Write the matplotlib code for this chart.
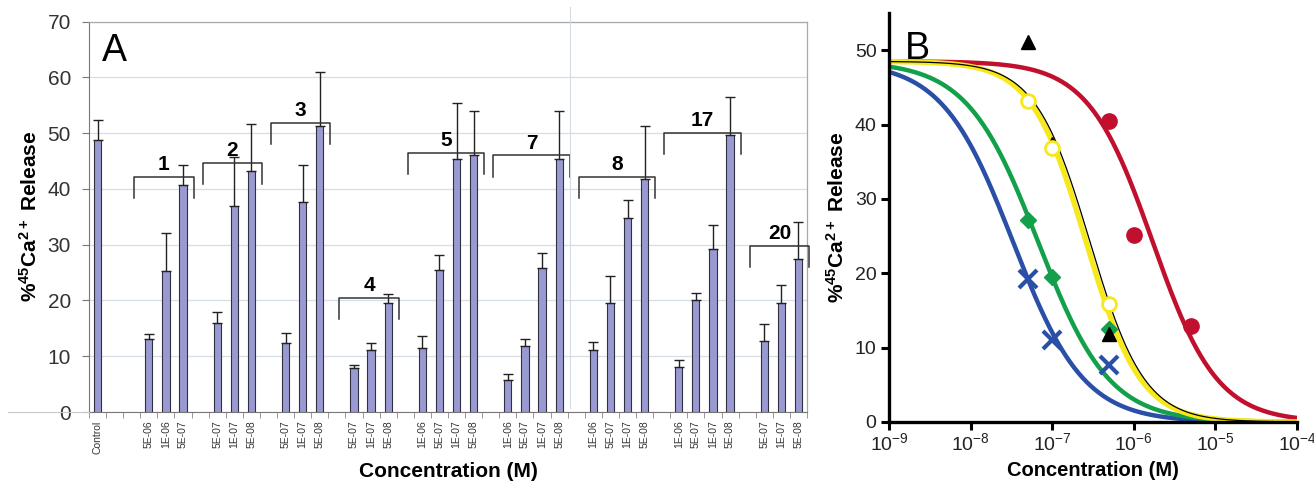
import numpy as np
import matplotlib.pyplot as plt
from matplotlib.lines import Line2D

plt.rcParams['font.family'] = ['Liberation Sans', 'DejaVu Sans']
plt.rcParams['mathtext.fontset'] = 'custom'
plt.rcParams['mathtext.rm'] = 'Liberation Sans'
plt.rcParams['mathtext.bf'] = 'Liberation Sans:bold'
plt.rcParams['mathtext.default'] = 'regular'

# ---- Panel A data (bar chart, '' = empty slot) ----
cat_labels = ['Control', '', '',
              '5E-06', '1E-06', '5E-07', '',
              '5E-07', '1E-07', '5E-08', '',
              '5E-07', '1E-07', '5E-08', '',
              '5E-07', '1E-07', '5E-08', '',
              '1E-06', '5E-07', '1E-07', '5E-08', '',
              '1E-06', '5E-07', '1E-07', '5E-08', '',
              '1E-06', '5E-07', '1E-07', '5E-08', '',
              '1E-06', '5E-07', '1E-07', '5E-08', '',
              '5E-07', '1E-07', '5E-08']
nan = np.nan
release = [48.7, nan, nan,
           13.1, 25.3, 40.7, nan,
           15.9, 36.9, 43.2, nan,
           12.3, 37.6, 51.3, nan,
           7.9, 11.1, 19.6, nan,
           11.5, 25.4, 45.3, 46.0, nan,
           5.8, 11.8, 25.8, 45.3, nan,
           11.1, 19.5, 34.7, 41.7, nan,
           8.0, 20.0, 29.2, 49.6, nan,
           12.8, 19.6, 27.4]
release_err = [3.7, nan, nan,
               0.9, 6.8, 3.6, nan,
               2.0, 8.9, 8.5, nan,
               1.9, 6.6, 9.6, nan,
               0.5, 1.2, 1.5, nan,
               2.1, 2.8, 10.1, 7.9, nan,
               1.0, 1.3, 2.7, 8.6, nan,
               1.4, 4.8, 3.3, 9.6, nan,
               1.4, 1.4, 4.4, 6.8, nan,
               2.9, 3.1, 6.7]

# compound brackets
group_names = ['1', '2', '3', '4', '5', '7', '8', '17', '20']
group_first = [3, 7, 11, 15, 19, 24, 29, 34, 39]
group_last = [5, 9, 13, 17, 22, 27, 32, 37, 41]
group_height = [42.2, 44.6, 51.8, 20.4, 46.4, 46.0, 42.2, 50.1, 29.8]

# ---- Panel B data (dose response) ----
conc_red = [5e-7, 1e-6, 5e-6]
val_red = [40.5, 25.2, 12.9]
conc_low = [5e-8, 1e-7, 5e-7]
val_blue = [19.2, 11.0, 7.7]
val_green = [27.1, 19.5, 12.5]
val_yellow = [43.1, 36.8, 15.9]
val_black = [51.1, 37.4, 11.8]

# fitted curve parameters: top, IC50, hill slope
fit_top = 48.5
ic50_red, hill_red = 1.7e-6, 1.1
ic50_blue, hill_blue = 3.3e-8, 1.0
ic50_green, hill_green = 6.7e-8, 1.0
ic50_yellow, hill_yellow = 2.6e-7, 1.3
ic50_black, hill_black = 2.9e-7, 1.3

W, H = 1314, 483
fig = plt.figure(figsize=(W / 100, H / 100), dpi=100)

# ================= Panel A =================
axA = fig.add_axes([89 / W, 1 - 412 / H, (807 - 89) / W, (412 - 21.5) / H])
x = np.arange(len(cat_labels))
vals = np.array(release)
errs = np.array(release_err)
axA.bar(x, vals, width=0.42, color='#9a9ad2', edgecolor='#303040', linewidth=0.8, zorder=3)
axA.errorbar(x, vals, yerr=[np.zeros_like(errs), errs], fmt='none', ecolor='#222222',
             elinewidth=1.0, capsize=3.5, capthick=1.0, zorder=4)

axA.set_xlim(-0.5, len(cat_labels) - 0.5)
axA.set_ylim(0, 70)
axA.set_yticks(range(0, 71, 10))
axA.yaxis.grid(True, color='#d6dee8', linewidth=0.9, zorder=0)
axA.set_axisbelow(True)
axA.set_xticks(x)
axA.set_xticklabels(cat_labels, rotation=90, fontsize=7.5, color='#333333')
axA.set_xticks(np.arange(-0.5, len(cat_labels), 1.0), minor=True)
axA.tick_params(axis='x', which='major', length=0, pad=6)
axA.tick_params(axis='x', which='minor', length=4, color='#888888', direction='out')
axA.tick_params(axis='y', length=5, color='#777777', labelsize=15, labelcolor='#333333', pad=8)
for side in ['top', 'right']:
    axA.spines[side].set_color('#a8a8a8')
    axA.spines[side].set_linewidth(0.9)
axA.spines['left'].set_color('#777777')
axA.spines['bottom'].set_color('#777777')

for name, i0, i1, h in zip(group_names, group_first, group_last, group_height):
    x0 = i0 - 0.85
    x1 = i1 + 0.62
    axA.plot([x0, x0, x1, x1], [h - 3.8, h, h, h - 3.8], color='#333333', lw=1.1,
             clip_on=False, zorder=5)
    axA.text((x0 + x1) / 2, h + 0.5, name, ha='center', va='bottom', fontsize=15,
             fontweight='bold', zorder=6)

axA.text(0.018, 0.97, 'A', transform=axA.transAxes, ha='left', va='top', fontsize=27)
axA.set_ylabel(r'%$^{45}$Ca$^{2+}$ Release', fontsize=15, fontweight='bold', labelpad=5)
axA.set_xlabel('Concentration (M)', fontsize=15, fontweight='bold', labelpad=6)

# scan artefacts of the original composite
fig.add_artist(Line2D([8 / W, 89 / W], [1 - 412 / H] * 2, transform=fig.transFigure,
                      color='#c8c8c8', lw=0.8))
fig.add_artist(Line2D([570 / W, 570 / W], [1 - 408 / H, 1 - 7 / H], transform=fig.transFigure,
                      color='#d4dce4', lw=0.8))

# ================= Panel B =================
axB = fig.add_axes([889 / W, 1 - 422 / H, (1297 - 889) / W, (422 - 13) / H])
xs = np.logspace(-9, -4, 400)


def dose_curve(c, ic50, hill):
    return fit_top / (1 + (c / ic50) ** hill)


axB.plot(xs, dose_curve(xs, ic50_red, hill_red), color='#c0102e', lw=3.2, zorder=2)
axB.plot(xs, dose_curve(xs, ic50_blue, hill_blue), color='#2a4fa6', lw=3.2, zorder=2)
axB.plot(xs, dose_curve(xs, ic50_green, hill_green), color='#12a04a', lw=3.2, zorder=2)
axB.plot(xs, dose_curve(xs, ic50_yellow, hill_yellow), color='#f7e81a', lw=3.8, zorder=2)
axB.plot(xs, dose_curve(xs, ic50_black, hill_black), color='black', lw=0.9, zorder=3)

axB.plot(conc_red, val_red, 'o', color='#c0102e', ms=11, zorder=4)
axB.plot(conc_low, val_blue, 'x', color='#2a4fa6', ms=13, mew=3, zorder=4)
axB.plot(conc_low, val_green, 'D', color='#12a04a', ms=8, zorder=4)
axB.plot(conc_low, val_black, '^', color='black', ms=10, zorder=4)
axB.plot(conc_low, val_yellow, 'o', mfc='white', mec='#f7e81a', mew=2, ms=10, zorder=5)

axB.set_xscale('log')
axB.set_xlim(1e-9, 1e-4)
axB.set_ylim(0, 55)
axB.set_yticks(range(0, 51, 10))
axB.set_xticks([1e-9, 1e-8, 1e-7, 1e-6, 1e-5, 1e-4])
axB.set_xticklabels([r'$10^{-9}$', r'$10^{-8}$', r'$10^{-7}$', r'$10^{-6}$',
                     r'$10^{-5}$', r'$10^{-4}$'])
axB.minorticks_off()
for side in ['top', 'right']:
    axB.spines[side].set_visible(False)
for side in ['left', 'bottom']:
    axB.spines[side].set_linewidth(2.4)
axB.tick_params(axis='both', width=2.2, length=6, labelsize=14, labelcolor='#222222')
axB.tick_params(axis='y', pad=3)
axB.tick_params(axis='x', pad=1)
axB.text(0.04, 0.955, 'B', transform=axB.transAxes, ha='left', va='top', fontsize=27)
axB.set_ylabel(r'%$^{45}$Ca$^{2+}$ Release', fontsize=15, fontweight='bold', labelpad=5)
axB.set_xlabel('Concentration (M)', fontsize=14.5, fontweight='bold', labelpad=5)

fig.savefig('out.png', dpi=100)
